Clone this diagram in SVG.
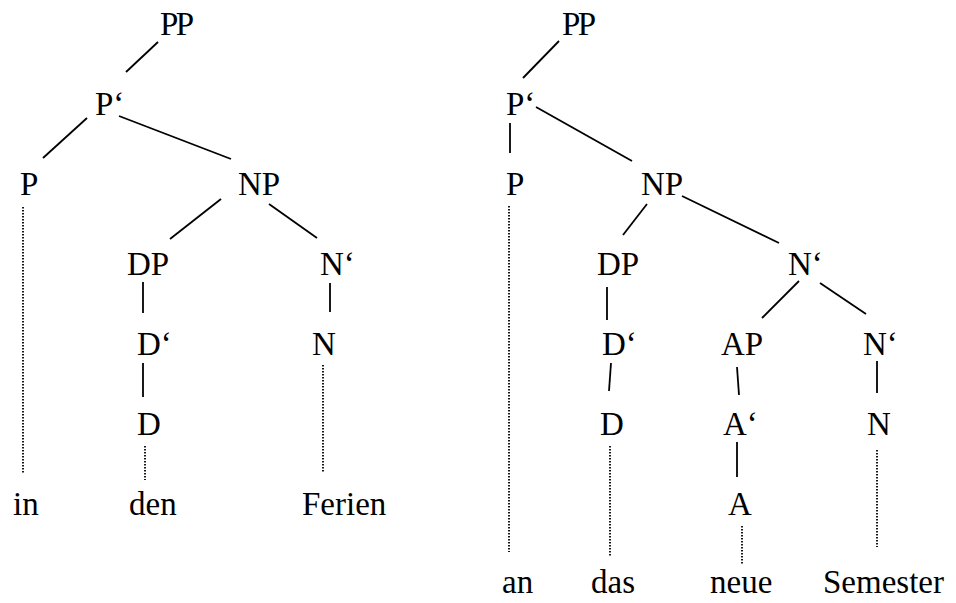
<svg xmlns="http://www.w3.org/2000/svg" width="956" height="603" viewBox="0 0 956 603">
<style>
text{font-family:"Liberation Serif","Times New Roman","DejaVu Serif",serif;font-size:33px;fill:#000}
.e{stroke:#000;stroke-width:1.8;fill:none}
.d{stroke:#000;stroke-width:1.8;fill:none;stroke-dasharray:1.5 1.5}
.pp{letter-spacing:-2.5px}
</style>
<rect width="956" height="603" fill="#fff"/>
<g id="tree1">
<g id="t1-PP"><text x="160" y="35" class="pp">PP</text></g>
<g id="t1-Pbar"><text x="95" y="115">P‘</text></g>
<g id="t1-P"><text x="20" y="195">P</text></g>
<g id="t1-NP"><text x="238" y="195">NP</text></g>
<g id="t1-DP"><text x="127" y="275">DP</text></g>
<g id="t1-Nbar"><text x="320" y="275">N‘</text></g>
<g id="t1-Dbar"><text x="137" y="355">D‘</text></g>
<g id="t1-N"><text x="312" y="355">N</text></g>
<g id="t1-D"><text x="137" y="435">D</text></g>
<g id="t1-in"><text x="13" y="515">in</text></g>
<g id="t1-den"><text x="129" y="515">den</text></g>
<g id="t1-Ferien"><text x="302" y="515">Ferien</text></g>
</g>
<g id="tree2">
<g id="t2-PP"><text x="562" y="35" class="pp">PP</text></g>
<g id="t2-Pbar"><text x="506" y="115">P‘</text></g>
<g id="t2-P"><text x="506" y="195">P</text></g>
<g id="t2-NP"><text x="641" y="195">NP</text></g>
<g id="t2-DP"><text x="597" y="275">DP</text></g>
<g id="t2-Nbar"><text x="788" y="275">N‘</text></g>
<g id="t2-Dbar"><text x="602" y="355">D‘</text></g>
<g id="t2-AP"><text x="721" y="355">AP</text></g>
<g id="t2-Nbar2"><text x="863" y="355">N‘</text></g>
<g id="t2-D"><text x="600" y="435">D</text></g>
<g id="t2-Abar"><text x="723" y="435">A‘</text></g>
<g id="t2-N"><text x="867" y="435">N</text></g>
<g id="t2-A"><text x="728" y="515">A</text></g>
<g id="t2-an"><text x="502" y="593">an</text></g>
<g id="t2-das"><text x="591" y="593">das</text></g>
<g id="t2-neue"><text x="710" y="593">neue</text></g>
<g id="t2-Semester"><text x="823" y="593">Semester</text></g>
</g>
<g id="connectors">
<line class="e" x1="158" y1="42" x2="126" y2="72"/>
<line class="e" x1="87" y1="118" x2="43" y2="158"/>
<line class="e" x1="119" y1="116" x2="231" y2="159"/>
<line class="e" x1="221" y1="199" x2="170" y2="239"/>
<line class="e" x1="269" y1="204" x2="317" y2="238"/>
<line class="e" x1="143" y1="282" x2="143" y2="313"/>
<line class="e" x1="143" y1="363" x2="143" y2="397"/>
<line class="e" x1="330" y1="283" x2="330" y2="312"/>
<line class="d" x1="23" y1="207" x2="23" y2="473"/>
<line class="d" x1="145" y1="446" x2="145" y2="480"/>
<line class="d" x1="323" y1="365" x2="323" y2="472"/>
<line class="e" x1="559" y1="41" x2="523" y2="78"/>
<line class="e" x1="510" y1="123" x2="510" y2="153"/>
<line class="e" x1="536" y1="107" x2="632" y2="161"/>
<line class="e" x1="647" y1="204" x2="623" y2="235"/>
<line class="e" x1="682" y1="196" x2="779" y2="243"/>
<line class="e" x1="799" y1="281" x2="762" y2="318"/>
<line class="e" x1="820" y1="283" x2="866" y2="314"/>
<line class="e" x1="607" y1="287" x2="607" y2="320"/>
<line class="e" x1="611" y1="363" x2="609" y2="391"/>
<line class="e" x1="737" y1="367" x2="739" y2="395"/>
<line class="e" x1="737" y1="442" x2="737" y2="477"/>
<line class="e" x1="877" y1="361" x2="877" y2="393"/>
<line class="d" x1="509" y1="206" x2="509" y2="552"/>
<line class="d" x1="610" y1="446" x2="610" y2="556"/>
<line class="d" x1="742" y1="526" x2="742" y2="564"/>
<line class="d" x1="877" y1="450" x2="877" y2="547"/>
</g>
</svg>
